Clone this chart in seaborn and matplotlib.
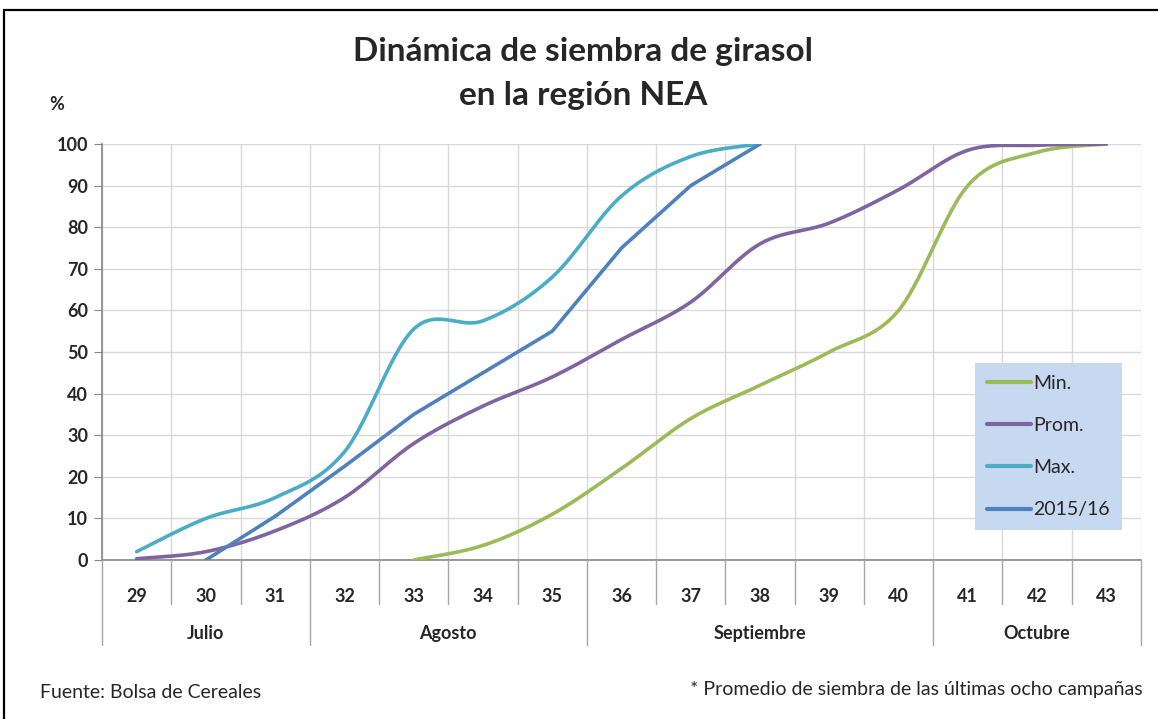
import numpy as np
import pandas as pd
import matplotlib
matplotlib.use("Agg")
import matplotlib.pyplot as plt
import matplotlib.transforms as mtransforms
from matplotlib.patches import Rectangle
import seaborn as sns

# Data
weeks = [29, 30, 31, 32, 33, 34, 35, 36, 37, 38, 39, 40, 41, 42, 43]
months = ["Julio", "Agosto", "Septiembre", "Octubre"]
month_weeks = [3, 4, 5, 3]
minimo = [None, None, None, None, 0, 3.5, 11, 22, 34, 42, 50, 60, 90, 98, 100]
promedio = [0.3, 2, 7, 15, 28, 37, 44, 53, 62, 76, 81, 89, 98.5, 99.7, 100]
maximo = [2, 10, 15, 26, 55.5, 57.5, 68, 87.5, 97, 100, None, None, None, None, None]
camp_1516 = [None, 0, 10.5, 22.5, 35, 45, 55, 75, 90, 100, None, None, None, None, None]

series = {"Min.": minimo, "Prom.": promedio, "Max.": maximo, "2015/16": camp_1516}
colors = {"Min.": "#9BBB59", "Prom.": "#8064A2", "Max.": "#4BACC6", "2015/16": "#4F81BD"}
smooth = {"Min.": True, "Prom.": True, "Max.": True, "2015/16": False}


def excel_smooth(xs, ys, n=30):
    # Catmull-Rom style bezier, like Excel's "smoothed line"
    pts = np.column_stack([xs, ys]).astype(float)
    out = []
    for i in range(len(pts) - 1):
        p0 = pts[i - 1] if i > 0 else pts[i]
        p1, p2 = pts[i], pts[i + 1]
        p3 = pts[i + 2] if i + 2 < len(pts) else pts[i + 1]
        b1 = p1 + (p2 - p0) / 6
        b2 = p2 - (p3 - p1) / 6
        t = np.linspace(0, 1, n)[:, None]
        seg = ((1 - t) ** 3) * p1 + 3 * ((1 - t) ** 2) * t * b1 + 3 * (1 - t) * t ** 2 * b2 + t ** 3 * p2
        out.append(seg if i == 0 else seg[1:])
    return np.vstack(out)


rows = []
for name, vals in series.items():
    idx = [i for i, v in enumerate(vals) if v is not None]
    ys = [vals[i] for i in idx]
    if smooth[name]:
        curve = excel_smooth(idx, ys)
    else:
        curve = np.column_stack([idx, ys])
    for k, (x, y) in enumerate(curve):
        rows.append({"serie": name, "x": x, "y": y, "order": k})
df = pd.DataFrame(rows)

sns.set_style("white")
plt.rcParams["font.family"] = ["Lato", "DejaVu Sans"]

W, H = 1158, 719
fig = plt.figure(figsize=(W / 100, H / 100), dpi=100)
ax = fig.add_axes([102 / W, 1 - 560 / H, (1141 - 102) / W, (560 - 144) / H])

sns.lineplot(data=df, x="x", y="y", hue="serie", palette=colors, sort=False,
             estimator=None, units="serie", linewidth=2.6, ax=ax, legend=False)

ax.set_xlim(-0.5, len(weeks) - 0.5)
ax.set_ylim(0, 100)
ax.set_yticks(range(0, 101, 10))
ax.set_yticklabels([str(v) for v in range(0, 101, 10)], fontweight="bold", fontsize=13)
ax.set_xticks(range(len(weeks)))
ax.set_xticklabels([str(w) for w in weeks], fontweight="bold", fontsize=13)
ax.set_xticks(np.arange(-0.5, len(weeks), 1), minor=True)
ax.tick_params(axis="x", which="major", length=0, pad=20)
ax.tick_params(axis="x", which="minor", length=0)
ax.tick_params(axis="y", length=6, color="#868686", direction="out", left=True, pad=4)
ax.set_xlabel("")
ax.set_ylabel("")

ax.grid(True, axis="y", color="#D9D9D9", linewidth=1)
ax.grid(True, axis="x", which="minor", color="#D9D9D9", linewidth=1)
ax.grid(False, axis="x", which="major")
for s in ["top", "right"]:
    ax.spines[s].set_visible(False)
for s in ["left", "bottom"]:
    ax.spines[s].set_color("#868686")
    ax.spines[s].set_linewidth(1.2)
    ax.spines[s].set_zorder(1)

# category separators below the axis
trans = mtransforms.blended_transform_factory(ax.transData, ax.transAxes)
bounds = np.cumsum([0] + month_weeks) - 0.5
for b in np.arange(-0.5, len(weeks), 1):
    deep = np.any(np.isclose(bounds, b))
    ax.plot([b, b], [0, -0.204 if deep else -0.105], transform=trans,
            color="#A6A6A6", linewidth=1, clip_on=False)
for i, m in enumerate(months):
    ax.text((bounds[i] + bounds[i + 1]) / 2, -0.177, m, transform=trans,
            ha="center", va="center", fontsize=13, fontweight="bold")

# legend
handles = [plt.Line2D([], [], color=colors[n], linewidth=3) for n in series]
leg = fig.legend(handles, list(series.keys()), loc="upper left",
                 bbox_to_anchor=(975 / W, 1 - 363 / H), frameon=True,
                 fontsize=14, handlelength=2.3, handletextpad=0.1,
                 labelspacing=1.3, borderpad=0.6, borderaxespad=0, fancybox=False)
leg.get_frame().set_facecolor("#C6D9F1")
leg.get_frame().set_edgecolor("none")
leg.get_frame().set_alpha(1)

# titles and notes
fig.text(583 / W, 1 - 52 / H, "Dinámica de siembra de girasol", ha="center", va="center",
         fontsize=24, fontweight="bold")
fig.text(583 / W, 1 - 95 / H, "en la región NEA", ha="center", va="center",
         fontsize=24, fontweight="bold")
fig.text(57 / W, 1 - 104 / H, "%", ha="center", va="center", fontsize=13, fontweight="bold")
fig.text(40 / W, 1 - 693 / H, "Fuente: Bolsa de Cereales", ha="left", va="center", fontsize=14)
fig.text(1143 / W, 1 - 690 / H, "* Promedio de siembra de las últimas ocho campañas",
         ha="right", va="center", fontsize=14)

# outer frame
fig.patches.append(Rectangle((4 / W, -0.05), 1.2, 1 - 10 / H + 0.05, transform=fig.transFigure,
                             fill=False, edgecolor="black", linewidth=1.6))

fig.savefig("out.png", dpi=100)
